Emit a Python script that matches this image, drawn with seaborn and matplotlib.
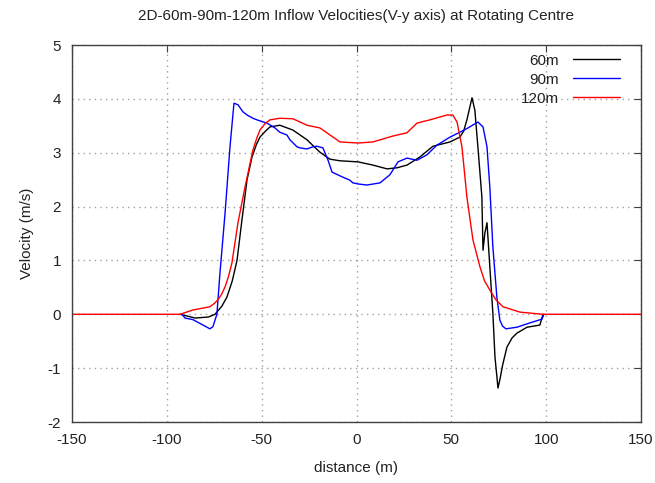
import matplotlib
matplotlib.use("Agg")
import matplotlib.pyplot as plt
import seaborn as sns
import pandas as pd
from matplotlib.lines import Line2D

# ---- data ----
x_60 = [-93.1, -85.0, -78.0, -74.6, -71.0, -68.3, -65.5, -63.0, -60.4, -57.7, -55.1, -52.8,
        -50.9, -48.0, -45.6, -40.4, -33.5, -26.1, -19.3, -14.0, -8.7, 0.8, 8.7, 16.1, 21.3,
        26.6, 33.4, 40.3, 49.3, 54.5, 56.5, 58.2, 60.9, 62.4, 64.0, 66.1, 66.7, 67.7, 68.8,
        69.3, 70.3, 71.9, 73.0, 74.6, 75.8, 77.0, 79.3, 82.0, 84.6, 89.9, 96.7, 98.3]
v_60 = [0.0, -0.07, -0.05, 0.0, 0.15, 0.32, 0.62, 1.0, 1.75, 2.5, 2.92, 3.15,
        3.29, 3.40, 3.48, 3.51, 3.42, 3.24, 3.01, 2.88, 2.85, 2.83, 2.77, 2.70, 2.72,
        2.77, 2.92, 3.12, 3.2, 3.29, 3.40, 3.61, 4.02, 3.79, 3.11, 2.18, 1.19, 1.51, 1.70,
        1.43, 0.88, 0.02, -0.79, -1.37, -1.18, -0.95, -0.61, -0.44, -0.35, -0.24, -0.2, 0.0]

x_90 = [-92.0, -90.4, -86.2, -80.9, -77.3, -75.7, -73.6, -72.0, -69.3, -66.7, -64.6, -62.5,
        -59.9, -57.7, -54.6, -52.5, -47.2, -43.0, -40.4, -36.7, -35.1, -31.4, -29.8, -26.1,
        -23.0, -20.8, -17.7, -15.0, -12.9, -8.7, -3.5, -1.9, 0.8, 5.5, 12.4, 17.6, 21.9,
        26.6, 31.9, 37.1, 42.4, 49.3, 54.5, 58.8, 64.0, 66.7, 68.8, 70.3, 71.9, 74.0, 75.6,
        77.0, 78.8, 84.6, 91.4, 97.8, 98.8]
v_90 = [0.0, -0.07, -0.1, -0.2, -0.27, -0.23, 0.0, 0.76, 1.88, 3.11, 3.92, 3.89,
        3.76, 3.70, 3.64, 3.61, 3.55, 3.46, 3.38, 3.33, 3.24, 3.11, 3.09, 3.07,
        3.11, 3.12, 3.09, 2.86, 2.64, 2.57, 2.49, 2.44, 2.42, 2.40, 2.44, 2.59, 2.83,
        2.90, 2.86, 2.96, 3.14, 3.29, 3.38, 3.46, 3.57, 3.48, 3.11, 2.36, 1.25, 0.32, -0.11,
        -0.22, -0.27, -0.24, -0.16, -0.09, 0.0]

x_120 = [-150.0, -93.1, -86.2, -77.3, -75.0, -73.0, -71.0, -69.3, -67.5, -65.7, -62.5, -58.8,
         -54.6, -52.5, -50.9, -48.0, -45.6, -40.4, -33.5, -26.1, -19.3, -14.0, -8.7, 0.8,
         8.7, 19.2, 26.6, 31.9, 38.7, 47.7, 50.8, 53.0, 55.6, 58.2, 61.4, 65.1, 67.5, 70.3,
         73.5, 77.2, 86.2, 98.3, 150.0]
v_120 = [0.0, 0.0, 0.08, 0.14, 0.2, 0.27, 0.38, 0.51, 0.7, 0.95, 1.7, 2.36,
         3.05, 3.28, 3.42, 3.55, 3.61, 3.64, 3.63, 3.51, 3.46, 3.33, 3.20, 3.18,
         3.2, 3.31, 3.37, 3.55, 3.61, 3.70, 3.70, 3.57, 3.11, 2.18, 1.38, 0.88, 0.62, 0.45,
         0.27, 0.14, 0.04, 0.0, 0.0]

series_names = ["60m", "90m", "120m"]
series_colors = ["#000000", "#0000ff", "#ff0000"]
x_ticks = [-150, -100, -50, 0, 50, 100, 150]
y_ticks = [-2, -1, 0, 1, 2, 3, 4, 5]

frames = []
for name, xs, vs in zip(series_names, [x_60, x_90, x_120], [v_60, v_90, v_120]):
    frames.append(pd.DataFrame({"distance": xs, "velocity": vs, "series": name}))
df = pd.concat(frames, ignore_index=True)

sns.set_style("white")
plt.rcParams["font.family"] = ["Liberation Sans", "DejaVu Sans"]

fig = plt.figure(figsize=(6.55, 4.83), dpi=100)
ax = fig.add_axes([72 / 655, 61 / 483, 569 / 655, 377 / 483])

sns.lineplot(data=df, x="distance", y="velocity", hue="series", hue_order=series_names,
             palette=series_colors, sort=False, estimator=None, units="series",
             linewidth=1.0, ax=ax, legend=False)

ax.set_xlim(-150, 150)
ax.set_ylim(-2, 5)
ax.set_xticks(x_ticks)
ax.set_yticks(y_ticks)
ax.set_xticklabels([str(t) for t in x_ticks])
ax.set_yticklabels([str(t) for t in y_ticks])
ax.grid(True, linestyle=(0, (1, 3)), color="#a0a0a0", linewidth=1.0)
ax.tick_params(direction="in", length=5, width=0.8, color="#404040", top=True, right=True,
               labelsize=11, pad=8, labelcolor="#222222")
for s in ax.spines.values():
    s.set_color("#404040")
    s.set_linewidth(1.0)

ax.set_xlabel("distance (m)", fontsize=11, labelpad=10, color="#222222")
ax.set_ylabel("Velocity (m/s)", fontsize=11, labelpad=10, color="#222222")
ax.set_title("2D-60m-90m-120m Inflow Velocities(V-y axis) at Rotating Centre",
             fontsize=11, pad=18, color="#222222")

handles = [Line2D([0], [0], color=c, lw=1.0) for c in series_colors]
leg = ax.legend(handles, series_names, loc="upper right", frameon=False, markerfirst=False,
                fontsize=11, handlelength=3.1, handletextpad=0.9, labelspacing=0.33,
                borderaxespad=0.0, bbox_to_anchor=(0.974, 0.993))
for t in leg.get_texts():
    t.set_ha("right")
    t.set_color("#222222")

fig.savefig("out.png", dpi=100, facecolor="white")
